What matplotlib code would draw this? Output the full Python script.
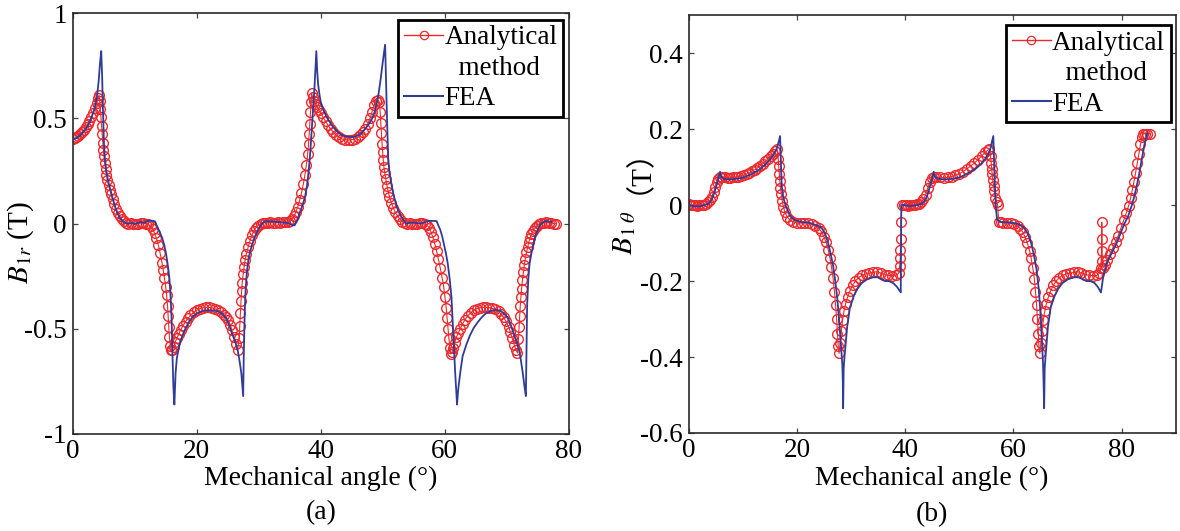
import matplotlib
matplotlib.use("Agg")
import matplotlib.pyplot as plt
from matplotlib.lines import Line2D
import numpy as np

plt.rcParams['font.family'] = 'serif'
plt.rcParams['font.serif'] = ['Liberation Serif', 'DejaVu Serif']
plt.rcParams['mathtext.fontset'] = 'stix'
plt.rcParams['axes.unicode_minus'] = False

# ---------------- data: panel (a) B1r ----------------
ang_a_an = [0.0, 0.3, 0.6, 0.9, 1.2, 1.5, 1.8, 2.1, 2.4, 2.7, 3.0, 3.3, 3.6, 3.9, 4.1, 4.25,
            4.35, 4.45, 4.55, 4.65, 4.75, 4.85, 4.95, 5.05, 5.15, 5.3, 5.45, 5.6, 5.8, 6.0, 6.2,
            6.45, 6.7, 7.0, 7.3, 7.6, 7.9, 8.2, 8.6, 9.0, 9.4, 9.8, 10.2, 10.6, 11.0, 11.4, 11.8,
            12.2, 12.6, 12.9, 13.2, 13.5, 13.8, 14.1, 14.4, 14.6, 14.8, 15.0, 15.15, 15.3, 15.4,
            15.5, 15.6, 15.75, 15.9, 16.1, 16.3, 16.5, 16.8, 17.1, 17.4, 17.8, 18.2, 18.6, 19.0,
            19.5, 20.0, 20.5, 21.0, 21.5, 22.0, 22.5, 23.0, 23.5, 24.0, 24.4, 24.8, 25.1, 25.4,
            25.7, 26.0, 26.3, 26.6, 26.85, 26.95, 27.05, 27.15, 27.25, 27.35, 27.5, 27.65, 27.8,
            28.0, 28.3, 28.6, 28.9, 29.2, 29.5, 29.9, 30.3, 30.7, 31.1, 31.5, 31.9, 32.3, 32.7,
            33.1, 33.5, 33.9, 34.3, 34.7, 35.1, 35.4, 35.7, 36.0, 36.3, 36.6, 36.9, 37.2, 37.45,
            37.7, 37.9, 38.05, 38.15, 38.25, 38.35, 38.45, 38.55, 38.7, 38.9, 39.1, 39.4, 39.7,
            40.0, 40.4, 40.8, 41.2, 41.6, 42.0, 42.5, 43.0, 43.5, 44.0, 44.5, 45.0, 45.5, 46.0,
            46.4, 46.8, 47.2, 47.6, 48.0, 48.3, 48.6, 48.9, 49.2, 49.45, 49.6, 49.7, 49.8, 49.9,
            50.0, 50.1, 50.2, 50.35, 50.5, 50.7, 50.9, 51.1, 51.4, 51.7, 52.0, 52.4, 52.8, 53.2,
            53.6, 54.0, 54.4, 54.8, 55.2, 55.6, 56.0, 56.4, 56.8, 57.2, 57.5, 57.8, 58.1, 58.4,
            58.7, 59.0, 59.3, 59.6, 59.85, 60.05, 60.25, 60.4, 60.55, 60.7, 60.85, 61.0, 61.2,
            61.4, 61.6, 61.9, 62.2, 62.5, 62.9, 63.3, 63.7, 64.2, 64.7, 65.2, 65.7, 66.2, 66.7,
            67.2, 67.7, 68.2, 68.7, 69.1, 69.5, 69.9, 70.3, 70.6, 70.9, 71.2, 71.5, 71.75, 71.9,
            72.0, 72.1, 72.2, 72.3, 72.4, 72.55, 72.7, 72.85, 73.0, 73.2, 73.4, 73.6, 73.8, 74.0,
            74.3, 74.6, 74.9, 75.2, 75.6, 76.0, 76.4, 76.8, 77.2, 77.6, 78.0]
br_an = [0.400, 0.405, 0.410, 0.418, 0.426, 0.435, 0.445, 0.458, 0.472, 0.488, 0.505, 0.525,
         0.548, 0.575, 0.598, 0.610, 0.585, 0.545, 0.505, 0.465, 0.425, 0.385, 0.350, 0.320,
         0.290, 0.260, 0.232, 0.208, 0.182, 0.160, 0.140, 0.115, 0.092, 0.070, 0.051, 0.035,
         0.021, 0.011, 0.004, 0.000, 0.002, 0.000, -0.002, 0.000, 0.003, 0.002, 0.000, -0.004,
         -0.012, -0.026, -0.045, -0.070, -0.100, -0.140, -0.185, -0.220, -0.260, -0.300, -0.340,
         -0.390, -0.440, -0.490, -0.540, -0.580, -0.600, -0.600, -0.585, -0.565, -0.545, -0.525,
         -0.505, -0.485, -0.466, -0.450, -0.436, -0.422, -0.412, -0.405, -0.400, -0.398, -0.398,
         -0.400, -0.405, -0.412, -0.422, -0.432, -0.446, -0.460, -0.480, -0.508, -0.540, -0.572,
         -0.600, -0.545, -0.485, -0.425, -0.370, -0.320, -0.280, -0.240, -0.205, -0.175, -0.145,
         -0.112, -0.082, -0.056, -0.036, -0.021, -0.010, -0.002, 0.004, 0.005, 0.004, 0.006,
         0.005, 0.004, 0.006, 0.005, 0.006, 0.007, 0.009, 0.013, 0.021, 0.035, 0.055, 0.080,
         0.110, 0.145, 0.188, 0.230, 0.280, 0.330, 0.380, 0.425, 0.475, 0.530, 0.580, 0.620,
         0.600, 0.582, 0.570, 0.555, 0.540, 0.525, 0.505, 0.486, 0.467, 0.450, 0.436, 0.421,
         0.410, 0.402, 0.399, 0.398, 0.399, 0.402, 0.410, 0.420, 0.434, 0.450, 0.474, 0.503,
         0.532, 0.562, 0.582, 0.590, 0.578, 0.530, 0.480, 0.430, 0.380, 0.340, 0.302, 0.270,
         0.240, 0.212, 0.180, 0.152, 0.127, 0.100, 0.076, 0.056, 0.036, 0.021, 0.010, 0.004,
         0.000, 0.002, 0.000, -0.002, 0.000, 0.003, 0.001, -0.002, -0.008, -0.020, -0.040,
         -0.065, -0.095, -0.130, -0.170, -0.212, -0.258, -0.300, -0.350, -0.400, -0.450, -0.500,
         -0.550, -0.590, -0.620, -0.610, -0.590, -0.566, -0.540, -0.520, -0.500, -0.476, -0.456,
         -0.440, -0.424, -0.412, -0.404, -0.400, -0.398, -0.398, -0.400, -0.403, -0.408, -0.417,
         -0.430, -0.445, -0.465, -0.490, -0.515, -0.545, -0.575, -0.600, -0.615, -0.550, -0.490,
         -0.440, -0.390, -0.350, -0.310, -0.270, -0.232, -0.197, -0.167, -0.136, -0.110, -0.086,
         -0.066, -0.050, -0.033, -0.020, -0.010, -0.003, 0.001, 0.004, 0.006, 0.004, 0.001,
         0.000, 0.000]

ang_a_fea = [0.0, 0.5, 1.0, 1.5, 2.0, 2.5, 3.0, 3.5, 3.9, 4.2, 4.4, 4.6, 4.75, 4.9, 5.05, 5.2,
             5.4, 5.7, 6.0, 6.5, 7.0, 7.5, 8.0, 8.5, 9.0, 9.5, 10.0, 10.5, 11.0, 11.5, 12.0,
             12.5, 13.0, 13.3, 13.7, 14.1, 14.4, 14.8, 15.1, 15.4, 15.6, 15.8, 15.95, 16.1,
             16.25, 16.4, 16.5, 16.6, 16.8, 17.1, 17.5, 18.0, 18.7, 19.3, 19.9, 20.5, 21.1,
             22.0, 22.9, 23.5, 24.1, 24.7, 25.2, 25.6, 26.2, 26.6, 26.9, 27.2, 27.4, 27.5,
             27.6, 27.75, 27.9, 28.1, 28.4, 28.7, 29.0, 29.3, 29.6, 29.9, 30.2, 30.5, 30.8,
             31.5, 32.2, 33.0, 33.8, 34.5, 35.0, 35.4, 35.8, 36.2, 36.5, 36.8, 37.2, 37.5,
             37.8, 38.1, 38.3, 38.5, 38.75, 39.0, 39.15, 39.3, 39.45, 39.6, 39.8, 40.0, 40.5,
             41.1, 41.7, 42.3, 42.9, 43.5, 44.2, 45.0, 45.6, 46.2, 46.7, 47.3, 47.8, 48.3,
             48.7, 49.0, 49.3, 49.6, 49.9, 50.2, 50.4, 50.55, 50.7, 50.9, 51.1, 51.4, 51.7,
             52.0, 52.3, 52.6, 52.9, 53.2, 53.5, 53.8, 54.4, 55.0, 55.6, 56.2, 56.8, 57.5,
             58.2, 58.7, 59.0, 59.3, 59.6, 59.9, 60.2, 60.5, 60.8, 61.1, 61.3, 61.5, 61.7,
             62.0, 62.15, 62.3, 62.6, 62.9, 63.5, 64.1, 64.7, 65.3, 65.9, 66.5, 67.2, 67.8,
             68.4, 69.0, 69.6, 70.2, 70.7, 71.1, 71.6, 72.0, 72.3, 72.6, 72.9, 73.1, 73.2,
             73.3, 73.5, 73.7, 74.0, 74.3, 74.6, 75.0, 75.3, 75.6, 76.2, 76.7, 77.2]
br_fea = [0.400, 0.405, 0.415, 0.428, 0.445, 0.468, 0.500, 0.545, 0.600, 0.680, 0.760, 0.820,
          0.700, 0.520, 0.380, 0.310, 0.255, 0.205, 0.170, 0.115, 0.065, 0.032, 0.012, 0.002,
          0.000, 0.003, -0.002, 0.004, 0.008, 0.004, 0.012, 0.014, 0.013, 0.010, -0.020,
          -0.045, -0.065, -0.105, -0.150, -0.210, -0.260, -0.350, -0.450, -0.630, -0.780,
          -0.860, -0.780, -0.710, -0.640, -0.590, -0.550, -0.510, -0.470, -0.445, -0.430,
          -0.420, -0.413, -0.412, -0.413, -0.418, -0.428, -0.448, -0.480, -0.515, -0.560,
          -0.600, -0.650, -0.710, -0.780, -0.820, -0.620, -0.420, -0.310, -0.230, -0.160,
          -0.125, -0.095, -0.070, -0.048, -0.030, -0.015, -0.002, 0.008, 0.012, 0.010, 0.008,
          0.006, 0.004, 0.000, -0.006, -0.008, 0.015, 0.040, 0.065, 0.100, 0.130, 0.180,
          0.260, 0.330, 0.420, 0.540, 0.645, 0.730, 0.820, 0.720, 0.660, 0.615, 0.580, 0.535,
          0.500, 0.472, 0.450, 0.432, 0.420, 0.414, 0.412, 0.414, 0.422, 0.435, 0.455, 0.475,
          0.500, 0.530, 0.565, 0.610, 0.670, 0.740, 0.810, 0.850, 0.680, 0.500, 0.310, 0.240,
          0.190, 0.145, 0.110, 0.080, 0.056, 0.038, 0.024, 0.010, 0.000, 0.005, 0.005, 0.002,
          0.000, 0.008, 0.013, 0.013, 0.012, -0.010, -0.030, -0.060, -0.100, -0.140, -0.190,
          -0.260, -0.350, -0.470, -0.600, -0.710, -0.860, -0.800, -0.760, -0.690, -0.630,
          -0.575, -0.530, -0.495, -0.470, -0.448, -0.430, -0.418, -0.412, -0.411, -0.414,
          -0.428, -0.450, -0.485, -0.520, -0.560, -0.600, -0.650, -0.710, -0.780, -0.820,
          -0.600, -0.390, -0.260, -0.190, -0.140, -0.100, -0.062, -0.030, -0.012, 0.000,
          0.013, 0.010, 0.008]

# ---------------- data: panel (b) B1theta ----------------
ang_b_an = [0.0, 0.4, 0.8, 1.2, 1.6, 2.0, 2.4, 2.8, 3.2, 3.6, 4.0, 4.3, 4.6, 4.9, 5.2, 5.5, 5.8,
            6.2, 6.7, 7.2, 7.7, 8.2, 8.7, 9.2, 9.7, 10.2, 10.7, 11.2, 11.7, 12.2, 12.7, 13.2,
            13.7, 14.2, 14.7, 15.2, 15.6, 16.0, 16.35, 16.55, 16.65, 16.75, 16.85, 16.95, 17.1,
            17.3, 17.5, 17.8, 18.2, 18.7, 19.3, 20.0, 20.7, 21.4, 22.1, 22.8, 23.4, 24.0, 24.5,
            25.0, 25.4, 25.8, 26.1, 26.4, 26.7, 26.95, 27.15, 27.35, 27.5, 27.65, 27.8, 28.0,
            28.2, 28.45, 28.7, 29.0, 29.4, 29.8, 30.3, 30.8, 31.4, 32.0, 32.7, 33.4, 34.1, 34.8,
            35.5, 36.2, 36.9, 37.6, 38.3, 38.8, 39.0, 39.1, 39.15, 39.2, 39.25, 39.4, 39.8, 40.2,
            40.6, 41.0, 41.4, 41.8, 42.2, 42.6, 43.0, 43.4, 43.8, 44.2, 44.6, 45.0, 45.4, 45.8,
            46.5, 47.2, 47.9, 48.6, 49.3, 50.0, 50.7, 51.4, 52.1, 52.8, 53.5, 54.2, 54.8, 55.3,
            55.6, 55.8, 55.9, 56.0, 56.1, 56.2, 56.35, 56.5, 56.7, 56.9, 57.1, 57.3, 57.7, 58.1,
            58.8, 59.5, 60.2, 60.8, 61.3, 61.8, 62.2, 62.6, 63.0, 63.3, 63.6, 63.9, 64.1, 64.3,
            64.45, 64.6, 64.75, 64.9, 65.1, 65.3, 65.55, 65.8, 66.1, 66.5, 66.9, 67.4, 67.9,
            68.5, 69.1, 69.8, 70.5, 71.2, 71.9, 72.6, 73.3, 74.0, 74.7, 75.4, 75.9, 76.2, 76.3,
            76.35, 76.4, 76.45, 76.55, 76.9, 77.4, 77.9, 78.4, 78.9, 79.4, 79.9, 80.4, 80.9,
            81.3, 81.7, 82.0, 82.3, 82.6, 82.9, 83.2, 83.5, 83.75, 84.0, 84.4, 84.8, 85.2]
bt_an = [0.002, 0.001, 0.000, 0.000, -0.001, 0.000, 0.000, 0.001, 0.003, 0.007, 0.014, 0.022,
         0.034, 0.048, 0.060, 0.070, 0.075, 0.074, 0.073, 0.072, 0.072, 0.073, 0.074, 0.075,
         0.077, 0.079, 0.082, 0.085, 0.089, 0.093, 0.098, 0.103, 0.109, 0.115, 0.122, 0.129,
         0.136, 0.142, 0.147, 0.122, 0.102, 0.082, 0.063, 0.046, 0.030, 0.012, -0.004, -0.019,
         -0.031, -0.039, -0.044, -0.046, -0.047, -0.047, -0.048, -0.050, -0.054, -0.060,
         -0.069, -0.083, -0.098, -0.118, -0.138, -0.163, -0.193, -0.228, -0.262, -0.300,
         -0.340, -0.372, -0.390, -0.362, -0.332, -0.302, -0.280, -0.260, -0.241, -0.226,
         -0.211, -0.200, -0.191, -0.185, -0.181, -0.179, -0.177, -0.175, -0.179, -0.183,
         -0.185, -0.186, -0.185, -0.180, -0.160, -0.140, -0.118, -0.090, -0.045, 0.000,
         0.001, 0.000, -0.001, 0.000, 0.000, 0.001, 0.002, 0.004, 0.008, 0.015, 0.028, 0.046,
         0.062, 0.072, 0.075, 0.074, 0.073, 0.072, 0.073, 0.075, 0.079, 0.083, 0.088, 0.095,
         0.103, 0.111, 0.120, 0.130, 0.139, 0.145, 0.148, 0.130, 0.112, 0.096, 0.081, 0.066,
         0.051, 0.036, 0.020, 0.008, 0.001, -0.045, -0.045, -0.046, -0.047, -0.048, -0.050,
         -0.055, -0.062, -0.072, -0.085, -0.100, -0.120, -0.140, -0.165, -0.195, -0.228,
         -0.262, -0.300, -0.340, -0.372, -0.390, -0.362, -0.332, -0.302, -0.280, -0.260,
         -0.241, -0.226, -0.211, -0.200, -0.191, -0.185, -0.181, -0.179, -0.177, -0.175,
         -0.179, -0.183, -0.185, -0.186, -0.185, -0.180, -0.165, -0.120, -0.045, -0.090,
         -0.147, -0.165, -0.158, -0.145, -0.128, -0.112, -0.096, -0.080, -0.060, -0.040,
         -0.020, -0.002, 0.020, 0.040, 0.062, 0.085, 0.110, 0.135, 0.160, 0.180, 0.188, 0.188,
         0.188, 0.188]

ang_b_fea = [0.0, 1.0, 2.0, 3.0, 3.8, 4.3, 4.8, 5.2, 5.5, 5.8, 6.0, 6.3, 7.0, 8.0, 9.0, 10.0,
             11.0, 12.0, 13.0, 14.0, 15.0, 15.8, 16.3, 16.7, 16.9, 17.05, 17.2, 17.5, 17.9,
             18.3, 18.8, 19.7, 21.0, 22.0, 23.0, 24.0, 24.6, 25.2, 25.7, 26.2, 26.7, 27.1, 27.5,
             27.9, 28.2, 28.4, 28.5, 28.55, 28.65, 28.8, 29.3, 29.8, 30.5, 31.2, 32.0, 33.0, 34.0,
             35.0, 35.5, 36.3, 37.0, 37.8, 38.5, 39.2, 39.3, 40.0, 41.0, 42.0, 43.0, 43.6, 44.1,
             44.6, 45.0, 45.3, 45.5, 46.0, 47.0, 48.0, 49.0, 50.0, 51.0, 52.0, 53.0, 54.0, 55.0,
             55.7, 56.1, 56.3, 56.45, 56.6, 56.8, 57.0, 57.4, 58.0, 59.0, 60.0, 61.0, 62.0, 62.7,
             63.3, 63.8, 64.3, 64.7, 65.0, 65.3, 65.5, 65.6, 65.7, 65.8, 65.95, 66.4, 66.9, 67.6,
             68.3, 69.1, 70.1, 71.2, 72.2, 72.8, 73.5, 74.3, 75.0, 75.6, 76.2, 76.6, 77.1, 77.7,
             78.4, 79.1, 79.8, 80.5, 81.2, 81.8, 82.3, 82.8, 83.3, 83.8, 84.3, 84.8]
bt_fea = [0.000, -0.003, -0.003, 0.000, 0.005, 0.015, 0.035, 0.055, 0.070, 0.088, 0.075, 0.070,
          0.068, 0.068, 0.070, 0.072, 0.078, 0.085, 0.093, 0.105, 0.120, 0.135, 0.150, 0.170,
          0.182, 0.110, 0.050, 0.020, 0.000, -0.014, -0.030, -0.040, -0.045, -0.045, -0.050,
          -0.055, -0.060, -0.075, -0.095, -0.125, -0.160, -0.200, -0.250, -0.320, -0.380,
          -0.420, -0.470, -0.535, -0.430, -0.400, -0.320, -0.270, -0.240, -0.220, -0.205,
          -0.195, -0.190, -0.190, -0.195, -0.200, -0.200, -0.205, -0.215, -0.230, 0.000,
          0.000, -0.003, 0.000, 0.003, 0.010, 0.025, 0.050, 0.070, 0.088, 0.075, 0.070, 0.068,
          0.068, 0.070, 0.073, 0.079, 0.087, 0.096, 0.108, 0.125, 0.145, 0.170, 0.182, 0.120,
          0.050, -0.010, -0.038, -0.043, -0.045, -0.045, -0.047, -0.050, -0.060, -0.075,
          -0.100, -0.130, -0.170, -0.220, -0.280, -0.360, -0.420, -0.470, -0.535, -0.430,
          -0.400, -0.320, -0.270, -0.240, -0.220, -0.205, -0.195, -0.190, -0.190, -0.195,
          -0.200, -0.200, -0.205, -0.215, -0.230, -0.190, -0.160, -0.140, -0.120, -0.100,
          -0.075, -0.050, -0.030, -0.005, 0.020, 0.050, 0.085, 0.125, 0.165, 0.190]

xticks_a = [0, 20, 40, 60, 80]
xticklabels_a = ['0', '20', '40', '60', '80']
yticks_a = [-1, -0.5, 0, 0.5, 1]
yticklabels_a = ['-1', '-0.5', '0', '0.5', '1']
xticks_b = [0, 20, 40, 60, 80]
xticklabels_b = ['0', '20', '40', '60', '80']
yticks_b = [-0.6, -0.4, -0.2, 0, 0.2, 0.4]
yticklabels_b = ['-0.6', '-0.4', '-0.2', '0', '0.2', '0.4']

legend_labels = ['Analytical', '  method', 'FEA']

RED = '#ec2a2e'
BLUE = '#2f3c98'
TICK_FS = 19.5
LAB_FS = 20
SERIF = 'Liberation Serif'

fig = plt.figure(figsize=(11.8, 5.31), dpi=100)
ax1 = fig.add_axes([0.0616, 0.1827, 0.4203, 0.7923])
ax2 = fig.add_axes([0.5836, 0.1846, 0.4127, 0.7866])


def style(ax):
    for s in ax.spines.values():
        s.set_linewidth(1.2)
        s.set_color('#2a2a2a')
    ax.tick_params(direction='in', top=True, right=True, length=3.6, width=0.9,
                   color='#444444')
    ax.tick_params(axis='y', pad=4.3)
    ax.tick_params(axis='x', pad=3.5)


def draw(ax, xa, ya, xf, yf):
    ax.plot(xa, ya, color=RED, lw=0.8, marker='o', ms=7.0, mfc='none',
            mec=RED, mew=1.0, zorder=2)
    ax.plot(xf, yf, color=BLUE, lw=1.3, zorder=3)


def add_legend(ax, anchor):
    h_an = Line2D([], [], color=RED, lw=1.0, marker='o', ms=6, mfc='none', mec=RED, mew=0.9)
    h_blank = Line2D([], [], color='none', lw=0)
    h_fea = Line2D([], [], color=BLUE, lw=1.5)
    leg = ax.legend([h_an, h_blank, h_fea], legend_labels, loc='upper right',
                    bbox_to_anchor=anchor, borderaxespad=0.0,
                    frameon=True, fancybox=False, edgecolor='black', framealpha=1,
                    handlelength=1.45, handletextpad=0.05, borderpad=0.2,
                    labelspacing=0.2, prop={'family': SERIF, 'size': 19.5})
    leg.get_frame().set_linewidth(2.0)
    return leg


# panel (a)
draw(ax1, ang_a_an, br_an, ang_a_fea, br_fea)
style(ax1)
ax1.set_xlim(0, 80)
ax1.set_ylim(-1, 1)
ax1.set_xticks(xticks_a)
ax1.set_xticklabels(xticklabels_a, fontfamily=SERIF, fontsize=TICK_FS)
ax1.set_yticks(yticks_a)
ax1.set_yticklabels(yticklabels_a, fontfamily=SERIF, fontsize=TICK_FS)
ax1.set_ylabel(r'$B_{1r}$ (T)', fontsize=21)
ax1.yaxis.label.set_verticalalignment('baseline')
ax1.yaxis.set_label_coords(-0.090, 0.455)
ax1.set_xlabel('Mechanical angle (°)', fontsize=LAB_FS, va='baseline')
ax1.xaxis.set_label_coords(0.5, -0.121)
add_legend(ax1, (0.9885, 0.984))

# panel (b)
draw(ax2, ang_b_an, bt_an, ang_b_fea, bt_fea)
style(ax2)
ax2.set_xlim(0, 90)
ax2.set_ylim(-0.6, 0.5)
ax2.set_xticks(xticks_b)
ax2.set_xticklabels(xticklabels_b, fontfamily=SERIF, fontsize=TICK_FS)
ax2.set_yticks(yticks_b)
ax2.set_yticklabels(yticklabels_b, fontfamily=SERIF, fontsize=TICK_FS)
ax2.set_ylabel(r'$B_{1\;\theta}$', fontsize=21)
ax2.yaxis.label.set_verticalalignment('baseline')
ax2.yaxis.label.set_horizontalalignment('left')
ax2.yaxis.set_label_coords(-0.1164, 0.426)
ax2.text(-0.1164, 0.572, '（T）', transform=ax2.transAxes, rotation=90,
         rotation_mode='anchor', ha='left', va='baseline', fontsize=21,
         family=['Liberation Serif', 'Noto Sans CJK SC'])
ax2.set_xlabel('Mechanical angle (°)', fontsize=LAB_FS, va='baseline')
ax2.xaxis.set_label_coords(0.5, -0.1245)
add_legend(ax2, (0.9897, 0.976))

fig.text(0.2720, 0.0226, '(a)', fontsize=LAB_FS, ha='center', va='baseline')
fig.text(0.7898, 0.0188, '(b)', fontsize=LAB_FS, ha='center', va='baseline')

fig.savefig('out.png', dpi=100)
